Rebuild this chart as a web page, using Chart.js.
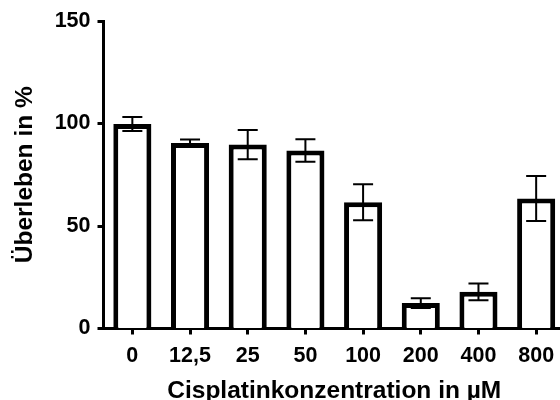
<!DOCTYPE html>
<html>
<head>
<meta charset="utf-8">
<script src="https://cdn.jsdelivr.net/npm/chart.js@4/dist/chart.umd.min.js"></script>
<style>
html,body{margin:0;padding:0;overflow:hidden;background:#fff}
canvas{display:block}
</style>
</head>
<body>
<canvas id="chart" width="565" height="400"></canvas>
<script>
// Cisplatin concentrations (µM) and survival in % with error (SEM)
const concentrations = ["0", "12,5", "25", "50", "100", "200", "400", "800"];
const survival = [99.8, 90.5, 89.7, 86.8, 61.6, 12.4, 17.9, 63.4];
const errors = [3.4, 1.7, 7.1, 5.5, 8.8, 2.4, 4.1, 11.0];
const yTicks = [0, 50, 100, 150];

const FONT = "'Liberation Sans', Arial, Helvetica, sans-serif";

// draws the whiskers from the y scale of the chart
const errorBars = {
  id: "errorBars",
  afterDatasetsDraw(chart){
    const ctx = chart.ctx;
    const meta = chart.getDatasetMeta(0);
    const y = chart.scales.y;
    ctx.save();
    ctx.strokeStyle = "#000";
    ctx.lineWidth = 2;
    meta.data.forEach((bar, i) => {
      const hi = y.getPixelForValue(survival[i] + errors[i]);
      const lo = y.getPixelForValue(survival[i] - errors[i]);
      ctx.beginPath();
      ctx.moveTo(bar.x, hi); ctx.lineTo(bar.x, lo);
      ctx.moveTo(bar.x - 10, hi); ctx.lineTo(bar.x + 10, hi);
      ctx.moveTo(bar.x - 10, lo); ctx.lineTo(bar.x + 10, lo);
      ctx.stroke();
    });
    ctx.restore();
  }
};

new Chart(document.getElementById("chart"), {
  type: "bar",
  data: {
    labels: concentrations,
    datasets: [{
      data: survival,
      backgroundColor: "#fff",
      borderColor: "#000",
      borderWidth: 5,
      barPercentage: 0.66,
      categoryPercentage: 1
    }]
  },
  options: {
    responsive: false,
    animation: false,
    devicePixelRatio: 1,
    layout: {padding: {top: 21, left: 0, right: 0, bottom: 0}},
    plugins: {legend: {display: false}, tooltip: {enabled: false}},
    scales: {
      x: {
        z: 1,
        offset: true,
        afterFit: s => { s.height = 71.5; },
        grid: {offset: false, drawOnChartArea: false, drawTicks: true, tickLength: 6, tickWidth: 3, color: "#000"},
        border: {display: true, color: "#000", width: 3},
        ticks: {color: "#000", padding: 8.5, maxRotation: 0, autoSkip: false,
                font: {family: FONT, size: 21.5, weight: "bold"}},
        title: {display: true, text: "Cisplatinkonzentration in µM", color: "#000",
                padding: {top: 0, bottom: -6.4},
                font: {family: FONT, size: 24.5, weight: "bold"}}
      },
      y: {
        min: 0,
        max: 150,
        afterFit: s => { s.width = 103.5; },
        afterBuildTicks: s => { s.ticks = yTicks.map(v => ({value: v})); },
        grid: {drawOnChartArea: false, drawTicks: true, tickLength: 6, tickWidth: 3, color: "#000"},
        border: {display: true, color: "#000", width: 3},
        ticks: {color: "#000", padding: 7,
                font: {family: FONT, size: 21.5, weight: "bold"}},
        title: {display: true, text: "Überleben in %", color: "#000",
                padding: {top: 10.7, bottom: 0},
                font: {family: FONT, size: 24.5, weight: "bold"}}
      }
    }
  },
  plugins: [errorBars]
});
</script>
</body>
</html>
